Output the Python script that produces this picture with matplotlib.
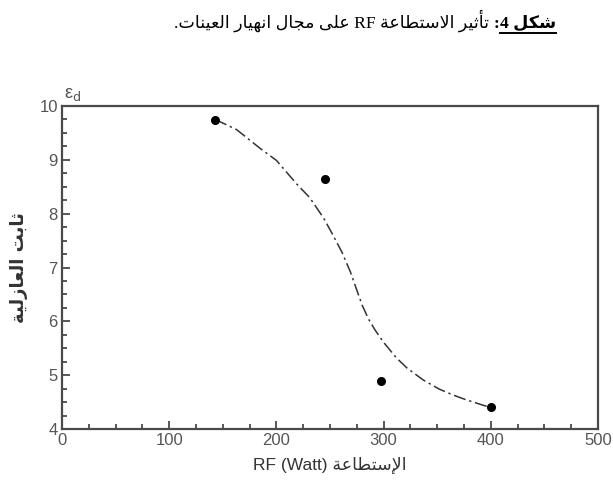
#!/usr/bin/env python3
"""Effect of RF power on the dielectric constant of the samples (Arabic labels)."""

import matplotlib
matplotlib.use("Agg")
import matplotlib.pyplot as plt
import matplotlib.ticker as ticker
from matplotlib.lines import Line2D

# measured points
power = [143, 245, 298, 400]
eps_d = [9.74, 8.65, 4.89, 4.40]

# fitted curve
fit_power = [143, 163, 185, 200, 219, 231, 244, 252, 261, 269, 275, 280, 286, 292, 300,
             312, 322, 337, 352, 365, 376, 393, 400]
fit_eps = [9.75, 9.56, 9.21, 8.99, 8.55, 8.30, 7.92, 7.63, 7.29, 6.92, 6.58, 6.30, 6.04,
           5.84, 5.61, 5.32, 5.13, 4.91, 4.74, 4.63, 4.55, 4.44, 4.40]

x_ticks = [0, 100, 200, 300, 400, 500]
y_ticks = [4, 5, 6, 7, 8, 9, 10]

TITLE_BOLD = ["شكل", "4"]
TITLE_REST = ["تأثير", "الاستطاعة", "RF", "على", "مجال", "انهيار", "العينات"]
XLABEL_AR = "الإستطاعة"
XLABEL_LAT = "RF (Watt)"
YLABEL_WORDS = ["ثابت", "العازلية"]

# Arabic presentation forms: isolated, final, initial, medial
FORMS = {
    "ا": (0xFE8D, 0xFE8E, None, None),
    "أ": (0xFE83, 0xFE84, None, None),
    "إ": (0xFE87, 0xFE88, None, None),
    "ب": (0xFE8F, 0xFE90, 0xFE91, 0xFE92),
    "ة": (0xFE93, 0xFE94, None, None),
    "ت": (0xFE95, 0xFE96, 0xFE97, 0xFE98),
    "ث": (0xFE99, 0xFE9A, 0xFE9B, 0xFE9C),
    "ج": (0xFE9D, 0xFE9E, 0xFE9F, 0xFEA0),
    "د": (0xFEA9, 0xFEAA, None, None),
    "ر": (0xFEAD, 0xFEAE, None, None),
    "ز": (0xFEAF, 0xFEB0, None, None),
    "س": (0xFEB1, 0xFEB2, 0xFEB3, 0xFEB4),
    "ش": (0xFEB5, 0xFEB6, 0xFEB7, 0xFEB8),
    "ط": (0xFEC1, 0xFEC2, 0xFEC3, 0xFEC4),
    "ع": (0xFEC9, 0xFECA, 0xFECB, 0xFECC),
    "ك": (0xFED9, 0xFEDA, 0xFEDB, 0xFEDC),
    "ل": (0xFEDD, 0xFEDE, 0xFEDF, 0xFEE0),
    "م": (0xFEE1, 0xFEE2, 0xFEE3, 0xFEE4),
    "ن": (0xFEE5, 0xFEE6, 0xFEE7, 0xFEE8),
    "ه": (0xFEE9, 0xFEEA, 0xFEEB, 0xFEEC),
    "ى": (0xFEEF, 0xFEF0, None, None),
    "ي": (0xFEF1, 0xFEF2, 0xFEF3, 0xFEF4),
}
LAMALEF = {"ا": (0xFEFB, 0xFEFC), "أ": (0xFEF7, 0xFEF8), "إ": (0xFEF9, 0xFEFA)}


def shape(word):
    """Return one Arabic word in joined presentation forms, in visual order."""
    if word.isascii():
        return word
    units, i = [], 0
    while i < len(word):
        if word[i] == "ل" and i + 1 < len(word) and word[i + 1] in LAMALEF:
            units.append(("LA", word[i + 1]))
            i += 2
        else:
            units.append(word[i])
            i += 1
    out = []
    for k, u in enumerate(units):
        prev = units[k - 1] if k > 0 else None
        nxt = units[k + 1] if k + 1 < len(units) else None
        joins_prev = isinstance(prev, str) and prev in FORMS and FORMS[prev][2] is not None
        if isinstance(u, tuple):
            iso, fin = LAMALEF[u[1]]
            out.append(chr(fin if joins_prev else iso))
            continue
        if u not in FORMS:
            out.append(u)
            continue
        iso, fin, ini, med = FORMS[u]
        joins_next = ini is not None and nxt is not None and (isinstance(nxt, tuple) or nxt in FORMS)
        if joins_prev and joins_next:
            out.append(chr(med))
        elif joins_prev:
            out.append(chr(fin))
        elif joins_next:
            out.append(chr(ini))
        else:
            out.append(chr(iso))
    return "".join(reversed(out))


def rtl(words):
    return " ".join(shape(w) for w in reversed(words))


def main():
    fig = plt.figure(figsize=(6.13, 4.86), dpi=100)
    fig.patch.set_facecolor("white")
    ax = fig.add_axes([62 / 613, 1 - 429 / 486, 536 / 613, 323 / 486])

    ax.plot(fit_power, fit_eps, color="#333333", linewidth=1.1,
            linestyle=(0, (8, 2.5, 1.5, 2.5)), zorder=2)
    ax.plot(power, eps_d, "o", color="black", markersize=5.5, zorder=3)

    ax.set_xlim(0, 500)
    ax.set_ylim(4, 10)
    ax.set_xticks(x_ticks)
    ax.set_yticks(y_ticks)
    ax.xaxis.set_minor_locator(ticker.MultipleLocator(25))
    ax.yaxis.set_minor_locator(ticker.MultipleLocator(0.25))

    grey = "#4a4a4a"
    for s in ax.spines.values():
        s.set_color(grey)
        s.set_linewidth(1.6)
    ax.tick_params(axis="both", which="both", direction="in", colors=grey,
                   top=False, right=False, width=1.3)
    ax.tick_params(axis="both", which="major", length=6, labelsize=12, pad=3)
    ax.tick_params(axis="both", which="minor", length=3.5)
    for lab in ax.get_xticklabels() + ax.get_yticklabels():
        lab.set_family(["Liberation Sans", "DejaVu Sans"])
        lab.set_color("#555555")

    ax.text(0.003, 1.008, "ε$_{\\rm d}$", transform=ax.transAxes,
            fontsize=13, color="#555555", ha="left", va="bottom",
            family=["Liberation Sans", "DejaVu Sans"])

    ax.set_xlabel(XLABEL_LAT + " " + shape(XLABEL_AR), fontsize=12.5,
                  family=["Liberation Sans", "DejaVu Sans"], color="#333333", labelpad=6)
    ax.set_ylabel(rtl(YLABEL_WORDS), fontsize=13, fontweight="bold",
                  family=["DejaVu Sans"], color="#333333", labelpad=8)

    # title, right to left: underlined bold "شكل 4", bold colon, then the rest
    serif = ["Liberation Serif", "DejaVu Sans"]
    under_str = TITLE_BOLD[1] + " " + shape(TITLE_BOLD[0])
    rest_str = "." + rtl(TITLE_REST) + " "
    ty = 1 - 28 / 486
    fs = 12.6
    t_rest = fig.text(0, ty, rest_str, fontsize=fs, family=serif, ha="left", va="baseline")
    t_colon = fig.text(0, ty, ":", fontsize=fs, fontweight="bold", family=serif,
                       ha="left", va="baseline")
    t_under = fig.text(0, ty, under_str, fontsize=fs, fontweight="bold", family=serif,
                       ha="left", va="baseline")
    fig.canvas.draw()
    r = fig.canvas.get_renderer()
    wr = t_rest.get_window_extent(r).width
    wc = t_colon.get_window_extent(r).width
    wu = t_under.get_window_extent(r).width
    W = fig.bbox.width
    x_right = 556
    x_u = x_right - wu
    x_c = x_u - wc
    x_r = x_c - wr
    t_under.set_x(x_u / W)
    t_colon.set_x(x_c / W)
    t_rest.set_x(x_r / W)
    uy = 1 - 33 / 486
    fig.add_artist(Line2D([x_u / W, x_right / W], [uy, uy], transform=fig.transFigure,
                          color="black", linewidth=1.4))

    fig.savefig("out.png", dpi=100, facecolor="white")
    plt.close(fig)


if __name__ == "__main__":
    main()
